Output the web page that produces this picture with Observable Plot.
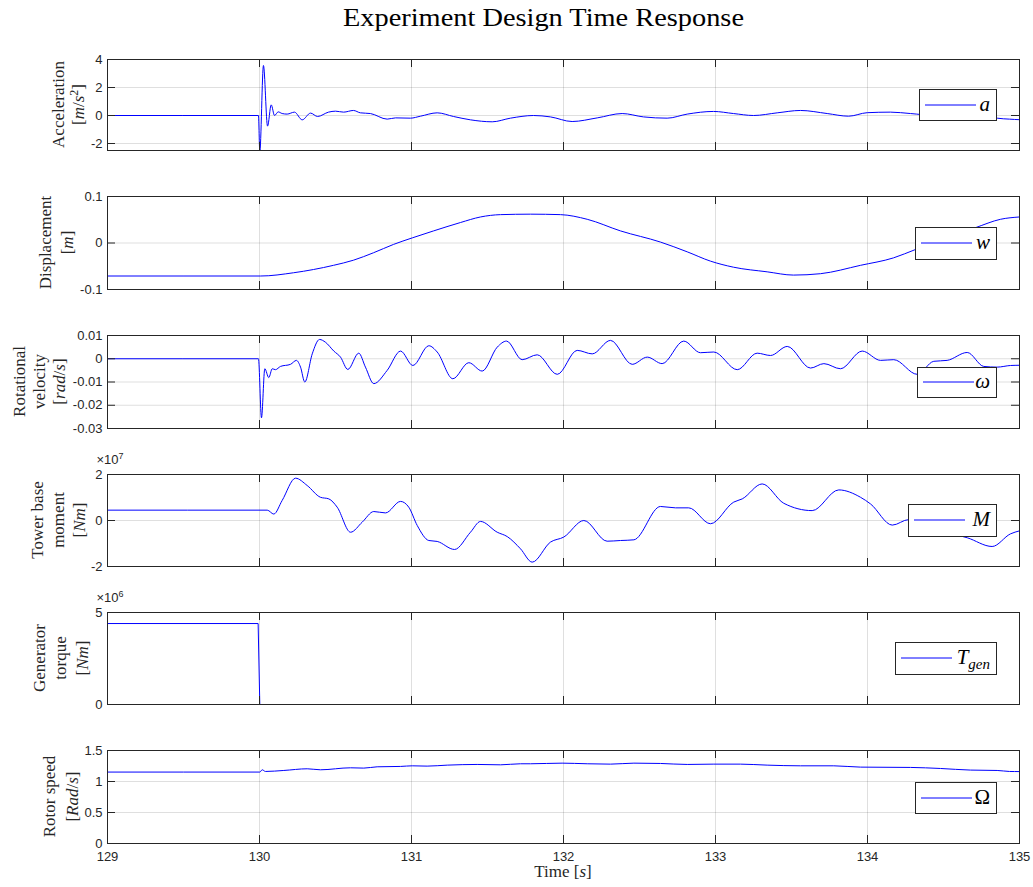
<!DOCTYPE html>
<html><head><meta charset="utf-8">
<script src="https://cdn.jsdelivr.net/npm/d3@7"></script>
<script src="https://cdn.jsdelivr.net/npm/@observablehq/plot@0.6"></script>
<style>
body{margin:0;background:#fff;}
#root{position:relative;width:1033px;height:887px;background:#fff;overflow:hidden;}
#root svg{position:absolute;left:0;}
</style></head><body><div id="root"></div>
<script>
// ---------- data ----------
const xTicks = [129,130,131,132,133,134,135];

const tAcc = [129,129.993,130.002,130.026,130.053,130.077,130.099,130.123,130.149,130.182,130.230,130.281,130.336,130.382,130.454,130.5,130.553,130.618,130.664,130.730,130.840,130.895,130.993,131.059,131.169,131.276,131.388,131.531,131.651,131.803,131.914,132.057,132.222,132.386,132.526,132.682,132.814,132.987,133.118,133.25,133.406,133.559,133.735,133.875,133.998,134.151,134.283,134.447,134.612,134.776,134.853,134.934,135];
const acc = [0,0,-2.6,3.57,-0.76,0.76,0.0,0.26,0.14,0.1,0.24,-0.31,0.17,-0.07,0.24,0.31,0.24,0.36,0.19,0.14,-0.26,-0.17,-0.19,-0.05,0.19,-0.07,-0.31,-0.45,-0.19,0.0,-0.1,-0.43,-0.17,0.14,-0.1,-0.19,0.1,0.29,0.14,0.0,0.19,0.36,0.14,-0.05,0.2,0.24,0.14,0.0,0.2,0.0,-0.19,-0.26,-0.3];
const accTicks = [-2,0,2,4];
const accTickLabels = ["-2","0","2","4"];

const tDisp = [129,130.007,130.224,130.487,130.618,130.75,130.882,131.005,131.145,131.322,131.454,131.586,131.783,131.98,132.156,132.375,132.638,132.814,132.967,133.118,133.34,133.513,133.691,133.954,134.171,134.316,134.513,134.711,134.875,135];
const disp = [-0.071,-0.071,-0.064,-0.048,-0.037,-0.021,-0.003,0.011,0.026,0.044,0.056,0.061,0.062,0.061,0.051,0.026,0.002,-0.019,-0.039,-0.052,-0.062,-0.069,-0.066,-0.048,-0.032,-0.014,0.01,0.033,0.051,0.056];
const dispTicks = [-0.1,0,0.1];
const dispTickLabels = ["-0.1","0","0.1"];

const tRot = [129,129.993,130.013,130.035,130.061,130.084,130.105,130.138,130.204,130.243,130.270,130.298,130.347,130.395,130.434,130.489,130.533,130.581,130.653,130.697,130.752,130.840,130.928,131.009,131.114,131.169,131.272,131.377,131.465,131.564,131.625,131.728,131.827,131.959,132.090,132.189,132.309,132.452,132.551,132.649,132.791,132.901,132.989,133.143,133.274,133.362,133.472,133.625,133.713,133.822,133.965,134.086,134.173,134.327,134.436,134.524,134.656,134.765,134.853,134.941,135];
const rot = [0,0,-0.0254,-0.0043,-0.0081,-0.0043,-0.0047,-0.0033,-0.0024,-0.0007,-0.0036,-0.01,0.0021,0.0083,0.0071,0.0033,0.0007,-0.0046,0.0024,-0.0036,-0.0107,-0.005,0.0033,-0.0029,0.0056,0.0029,-0.0086,-0.0017,-0.0053,0.005,0.0076,-0.0004,0.0017,-0.0067,0.0036,0.0021,0.0079,-0.0024,0.0007,-0.0021,0.0076,0.0026,0.0029,-0.0047,0.0024,0.0014,0.0053,-0.004,-0.0021,-0.0043,0.0033,-0.0007,-0.0004,-0.0067,-0.0011,-0.0007,0.0027,-0.0033,-0.0036,-0.0029,-0.0028];
const rotTicks = [-0.03,-0.02,-0.01,0,0.01];
const rotTickLabels = ["-0.03","-0.02","-0.01","0","0.01"];

const tMom = [129,130.051,130.094,130.149,130.237,130.314,130.401,130.456,130.511,130.599,130.676,130.752,130.829,130.928,130.982,131.038,131.114,131.169,131.283,131.388,131.454,131.564,131.630,131.717,131.794,131.914,132.002,132.134,132.287,132.375,132.463,132.638,132.737,132.824,132.967,133.120,133.176,133.307,133.449,133.636,133.811,133.954,134.020,134.163,134.272,134.447,134.572,134.656,134.820,134.941,135];
const mom = [0.45e7,0.45e7,0.28e7,0.87e7,1.84e7,1.52e7,1.01e7,0.94e7,0.58e7,-0.51e7,-0.07e7,0.39e7,0.33e7,0.83e7,0.58e7,-0.22e7,-0.87e7,-0.91e7,-1.26e7,-0.51e7,-0.04e7,-0.51e7,-0.70e7,-1.23e7,-1.81e7,-0.94e7,-0.72e7,0.0,-0.90e7,-0.87e7,-0.84e7,0.61e7,0.55e7,0.55e7,-0.14e7,0.80e7,0.94e7,1.59e7,0.75e7,0.43e7,1.33e7,1.01e7,0.72e7,-0.20e7,0.04e7,-0.35e7,-0.6e7,-0.75e7,-1.13e7,-0.58e7,-0.45e7];
const momTicks = [-2e7,0,2e7];
const momTickLabels = ["-2","0","2"];

const tTorq = [129,129.991,130.002,135];
const torq = [4.4e6,4.4e6,0,0];
const torqTicks = [0,5e6];
const torqTickLabels = ["0","5"];

const tSpd = [129,130.002,130.018,130.039,130.16,130.314,130.401,130.599,130.686,130.774,130.928,131.005,131.103,131.235,131.432,131.586,131.717,131.783,131.991,132.156,132.309,132.463,132.638,132.814,132.989,133.164,133.34,133.559,133.778,133.954,134.283,134.48,134.678,134.853,134.934,135];
const spd = [1.152,1.152,1.189,1.162,1.178,1.205,1.189,1.221,1.216,1.237,1.243,1.253,1.248,1.264,1.275,1.269,1.286,1.286,1.296,1.286,1.280,1.296,1.291,1.275,1.280,1.280,1.264,1.253,1.253,1.232,1.227,1.210,1.184,1.178,1.162,1.16];
const spdTicks = [0,0.5,1,1.5];
const spdTickLabels = ["0","0.5","1","1.5"];

const titleText = "Experiment Design Time Response";
const xLabel = ["Time ", "[", ["s","i"], "]"];

// ---------- layout ----------
const SERIF = "'Liberation Serif','Times New Roman',serif";
const SANS = "'Liberation Sans',Arial,Helvetica,sans-serif";
const INK = "#262626";
const L = 107, R = 1019;

const panels = [
  {t:tAcc, v:acc, ticks:accTicks, labels:accTickLabels, domain:[-2.5,4], top:59, h:91,
   ylab:[["Acceleration"],["[",["m","i"],"/",["s","i"],["2","sup"],"]"]], base:[64,84],
   leg:{x:919,y:89,h:31,sym:[["a","i"]]}},
  {t:tDisp, v:disp, ticks:dispTicks, labels:dispTickLabels, domain:[-0.1,0.1], top:196, h:93,
   ylab:[["Displacement"],["[",["m","i"],"]"]], base:[51,73],
   leg:{x:915,y:227,h:32,sym:[["w","i"]]}},
  {t:tRot, v:rot, ticks:rotTicks, labels:rotTickLabels, domain:[-0.03,0.01], top:335, h:93,
   ylab:[["Rotational"],["velocity"],["[",["rad","i"],"/",["s","i"],"]"]], base:[25,45,65],
   leg:{x:917,y:367,h:30,sym:[["ω","i"]]}},
  {t:tMom, v:mom, ticks:momTicks, labels:momTickLabels, domain:[-2e7,2e7], top:474, h:92, exp:"7",
   ylab:[["Tower base"],["moment"],["[",["Nm","i"],"]"]], base:[43,64,85],
   leg:{x:908,y:504,h:32,sym:[["M","i"]]}},
  {t:tTorq, v:torq, ticks:torqTicks, labels:torqTickLabels, domain:[0,5e6], top:612, h:92, exp:"6", curve:"linear",
   ylab:[["Generator"],["torque"],["[",["Nm","i"],"]"]], base:[45,66,88],
   leg:{x:895,y:642,h:32,sym:[["T","i"],["gen","isub"]]}},
  {t:tSpd, v:spd, ticks:spdTicks, labels:spdTickLabels, domain:[0,1.5], top:750, h:93,
   ylab:[["Rotor speed"],["[",["Rad","i"],"/",["s","i"],"]"]], base:[55,78],
   leg:{x:915,y:782,h:31,sym:[["Ω",""]]}}
];

function rich(text, segs, size) {
  let pending = 0;
  for (const s of segs) {
    const [str, st] = typeof s === "string" ? [s, ""] : s;
    const ts = text.append("tspan").text(str);
    if (st.includes("i")) ts.attr("font-style", "italic");
    let shift = 0;
    if (st.includes("sup")) shift = -Math.round(size * 0.38);
    if (st.includes("sub")) shift = Math.round(size * 0.25);
    if (shift) ts.attr("font-size", Math.round(size * 0.7));
    const dy = shift + pending;
    if (dy) ts.attr("dy", dy);
    pending = -shift;
  }
}

const root = document.getElementById("root");

// title
{
  const s = d3.create("svg").attr("width", 1033).attr("height", 40).style("top", "0px");
  s.append("text").attr("x", 543.5).attr("y", 26).attr("text-anchor", "middle")
    .attr("font-family", SERIF).attr("font-size", 26)
    .attr("textLength", 401).attr("lengthAdjust", "spacingAndGlyphs")
    .attr("fill", "#000").text(titleText);
  root.appendChild(s.node());
}

panels.forEach((p, idx) => {
  const last = idx === panels.length - 1;
  const mt = 32, mb = last ? 46 : 8;
  const H = p.h + mt + mb;
  const pw = R - L;
  const data = p.t.map((t, i) => ({t, v: p.v[i]})).filter(d => d.v !== undefined);
  const fmt = new Map(p.ticks.map((d, i) => [d, p.labels[i]]));
  const marks = [
    Plot.gridX({ticks: xTicks, stroke: INK, strokeOpacity: 0.15}),
    Plot.gridY({ticks: p.ticks, stroke: INK, strokeOpacity: 0.15}),
    Plot.line(data, {x: "t", y: "v", stroke: "#0000ff", strokeWidth: 1, curve: p.curve || "monotone-x", clip: true}),
    Plot.tickX(xTicks, {x: d => d, insetBottom: p.h - 8, stroke: INK}),
    Plot.tickX(xTicks, {x: d => d, insetTop: p.h - 8, stroke: INK}),
    Plot.tickY(p.ticks, {y: d => d, insetRight: pw - 8, stroke: INK}),
    Plot.tickY(p.ticks, {y: d => d, insetLeft: pw - 8, stroke: INK}),
    Plot.frame({stroke: INK}),
    Plot.axisY({ticks: p.ticks, tickSize: 0, tickPadding: 5, tickFormat: d => fmt.get(d), label: null, fill: INK})
  ];
  if (last) marks.push(Plot.axisX({ticks: xTicks, tickSize: 0, tickPadding: 8, tickFormat: d => String(d), label: null, fill: INK}));
  const el = Plot.plot({
    width: 1033, height: H,
    marginLeft: L, marginRight: 1033 - R, marginTop: mt, marginBottom: mb,
    style: {fontFamily: SANS, fontSize: "13px", color: INK, background: "transparent"},
    x: {domain: [129, 135], axis: null},
    y: {domain: p.domain, axis: null},
    marks
  });
  el.style.top = (p.top - mt) + "px";
  const svg = d3.select(el);
  const cy = mt + p.h / 2;
  p.ylab.forEach((line, i) => {
    const tx = svg.append("text")
      .attr("transform", `translate(${p.base[i]},${cy}) rotate(-90)`)
      .attr("text-anchor", "middle").attr("font-family", SERIF)
      .attr("font-size", 17).attr("fill", INK);
    rich(tx, line, 17);
  });
  if (p.exp) {
    const tx = svg.append("text").attr("x", L + 3).attr("y", mt - 10)
      .attr("font-family", SANS).attr("font-size", 13).attr("fill", INK);
    rich(tx, ["×10", [p.exp, "sup"]], 13);
  }
  // legend
  const g = svg.append("g").attr("transform", `translate(0,${mt - p.top})`);
  const lg = p.leg;
  g.append("rect").attr("x", lg.x + 0.5).attr("y", lg.y + 0.5).attr("width", 996 - lg.x).attr("height", lg.h)
    .attr("fill", "#fff").attr("stroke", INK).attr("stroke-width", 1);
  const my = Math.round(lg.y + lg.h / 2);
  g.append("line").attr("x1", lg.x + 6).attr("x2", lg.x + 57).attr("y1", my).attr("y2", my)
    .attr("stroke", "#0000ff").attr("stroke-width", 1);
  const st = g.append("text").attr("x", 990).attr("y", my + 6).attr("text-anchor", "end")
    .attr("font-family", SERIF).attr("font-size", 21).attr("fill", "#000");
  rich(st, lg.sym, 21);
  if (last) {
    const xl = svg.append("text").attr("x", (L + R) / 2).attr("y", mt + p.h + 34)
      .attr("text-anchor", "middle").attr("font-family", SERIF).attr("font-size", 17).attr("fill", INK);
    rich(xl, xLabel, 17);
  }
  root.appendChild(el);
});
</script></body></html>
